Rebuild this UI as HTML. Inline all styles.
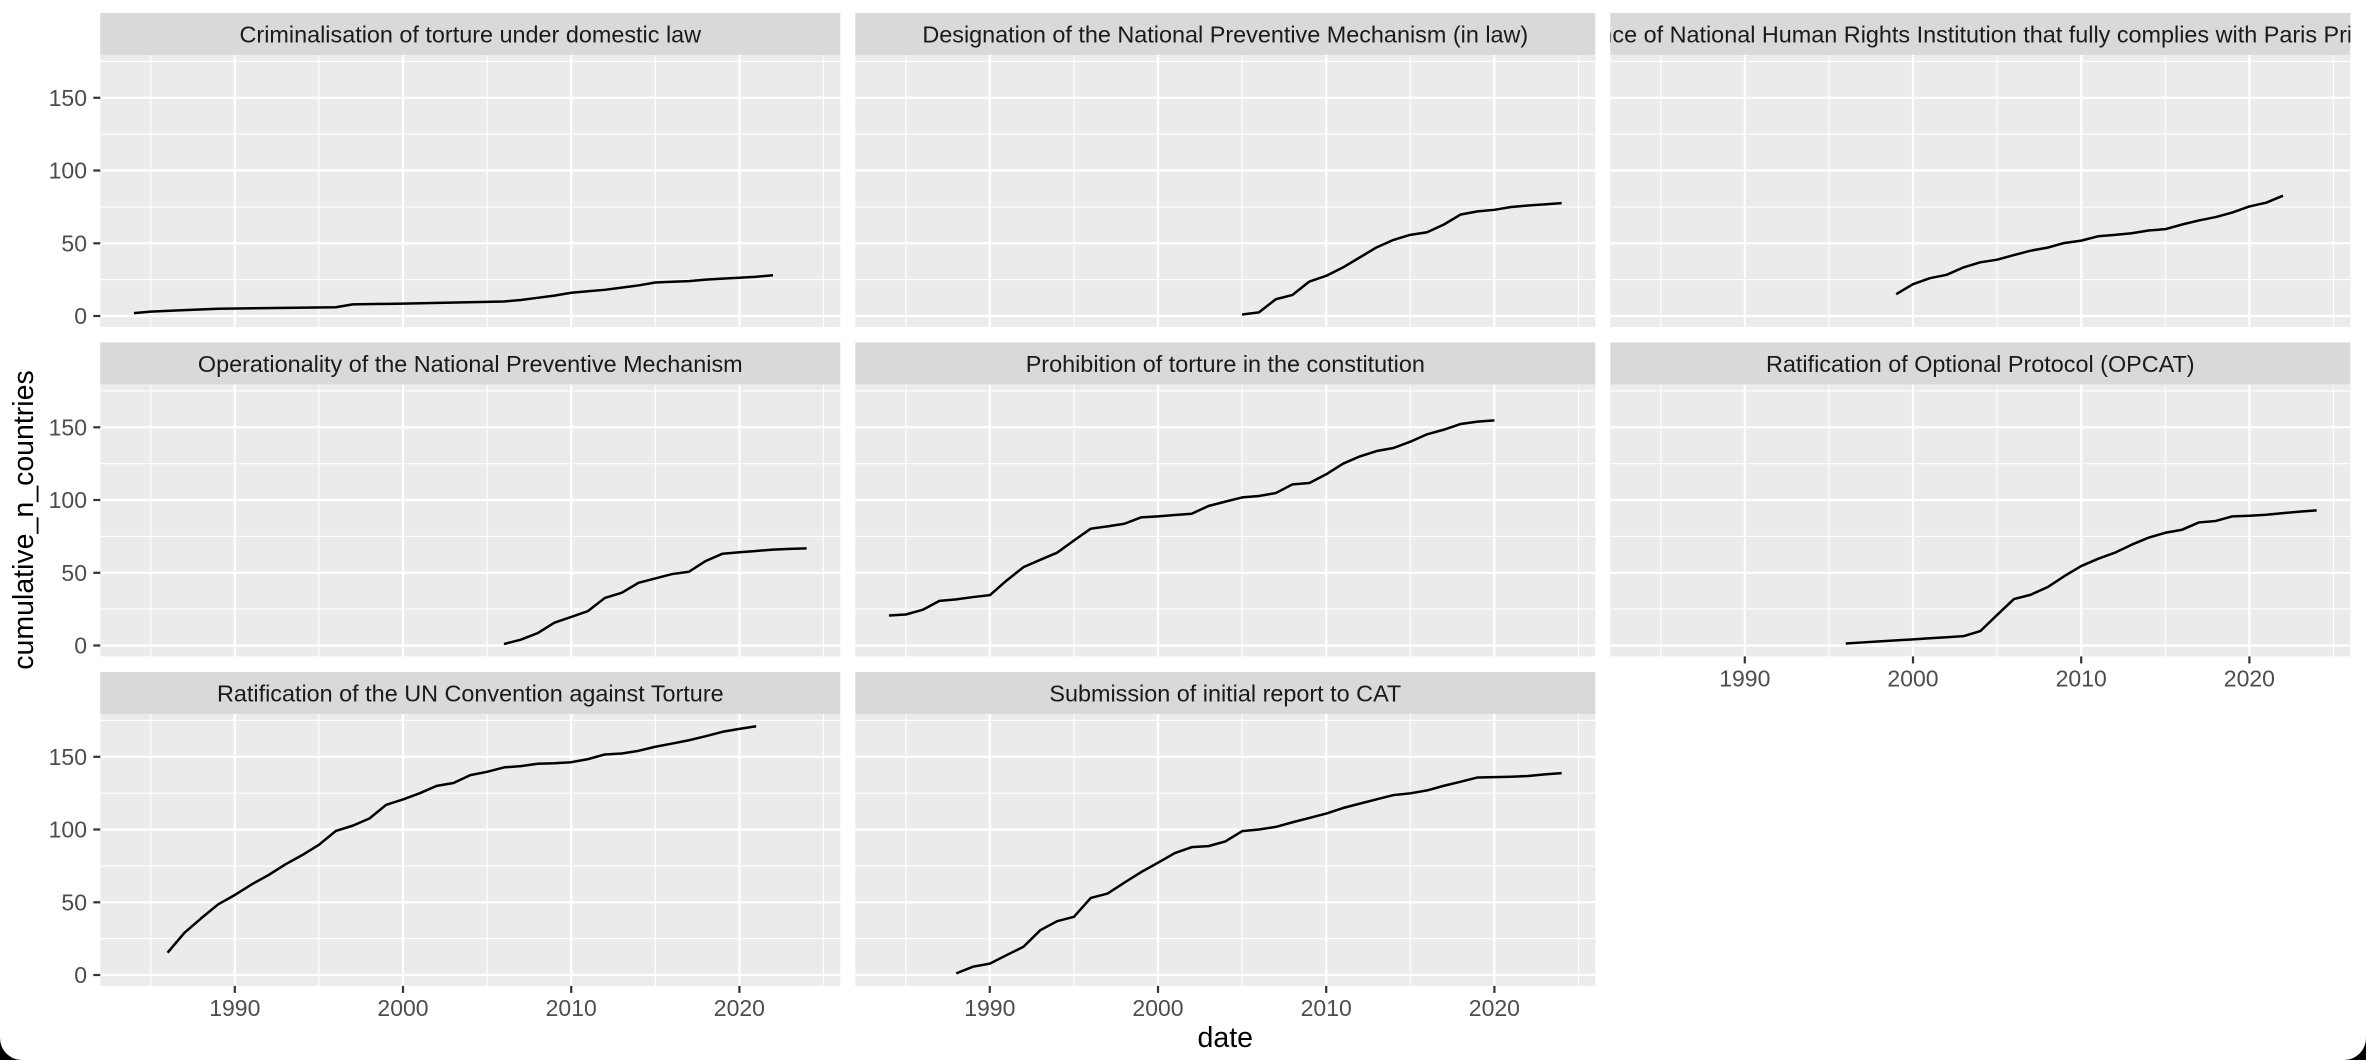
<!DOCTYPE html>
<html>
<head>
<meta charset="utf-8">
<style>
html,body{margin:0;padding:0;background:#fff;}
svg{display:block;}
text{font-family:"Liberation Sans",Arial,sans-serif;}
.st{font-size:23.4px;fill:#1A1A1A;text-anchor:middle;}
.yl{font-size:23px;fill:#4D4D4D;text-anchor:end;}
.xl{font-size:23px;fill:#4D4D4D;text-anchor:middle;}
.ttl{font-size:28.5px;fill:#000;text-anchor:middle;}
.ln{fill:none;stroke:#000;stroke-width:2.5;stroke-linejoin:round;vector-effect:non-scaling-stroke;}
.tk{stroke:#333;stroke-width:2.2;}
</style>
</head>
<body>
<svg width="2366" height="1060" viewBox="0 0 2366 1060" xmlns="http://www.w3.org/2000/svg">
<defs>
<g id="pg">
<rect x="0" y="0" width="740" height="272" fill="#EBEBEB"/>
<g stroke="#fff" stroke-width="1.1">
<line x1="0" y1="6.5" x2="740" y2="6.5"/>
<line x1="0" y1="79.3" x2="740" y2="79.3"/>
<line x1="0" y1="152.0" x2="740" y2="152.0"/>
<line x1="0" y1="224.7" x2="740" y2="224.7"/>
<line x1="50.5" y1="0" x2="50.5" y2="272"/>
<line x1="218.6" y1="0" x2="218.6" y2="272"/>
<line x1="386.8" y1="0" x2="386.8" y2="272"/>
<line x1="555.0" y1="0" x2="555.0" y2="272"/>
<line x1="723.2" y1="0" x2="723.2" y2="272"/>
</g>
<g stroke="#fff" stroke-width="2.2">
<line x1="0" y1="42.9" x2="740" y2="42.9"/>
<line x1="0" y1="115.6" x2="740" y2="115.6"/>
<line x1="0" y1="188.4" x2="740" y2="188.4"/>
<line x1="0" y1="261.1" x2="740" y2="261.1"/>
<line x1="134.5" y1="0" x2="134.5" y2="272"/>
<line x1="302.7" y1="0" x2="302.7" y2="272"/>
<line x1="470.9" y1="0" x2="470.9" y2="272"/>
<line x1="639.1" y1="0" x2="639.1" y2="272"/>
</g>
</g>
<g id="yax">
<line class="tk" x1="93.3" y1="42.9" x2="100.3" y2="42.9"/>
<line class="tk" x1="93.3" y1="115.6" x2="100.3" y2="115.6"/>
<line class="tk" x1="93.3" y1="188.4" x2="100.3" y2="188.4"/>
<line class="tk" x1="93.3" y1="261.1" x2="100.3" y2="261.1"/>
<text class="yl" x="87" y="51.1">150</text>
<text class="yl" x="87" y="123.8">100</text>
<text class="yl" x="87" y="196.6">50</text>
<text class="yl" x="87" y="269.3">0</text>
</g>
<g id="xax">
<line class="tk" x1="134.5" y1="0" x2="134.5" y2="7"/>
<line class="tk" x1="302.7" y1="0" x2="302.7" y2="7"/>
<line class="tk" x1="470.9" y1="0" x2="470.9" y2="7"/>
<line class="tk" x1="639.1" y1="0" x2="639.1" y2="7"/>
<text class="xl" x="134.5" y="30.3">1990</text>
<text class="xl" x="302.7" y="30.3">2000</text>
<text class="xl" x="470.9" y="30.3">2010</text>
<text class="xl" x="639.1" y="30.3">2020</text>
</g>
<clipPath id="c1"><rect x="100.3" y="12.9" width="740" height="42"/></clipPath>
<clipPath id="c2"><rect x="855.3" y="12.9" width="740" height="42"/></clipPath>
<clipPath id="c3"><rect x="1610.3" y="12.9" width="740" height="42"/></clipPath>
</defs>

<rect x="0" y="0" width="2366" height="1060" fill="#fff"/>

<!-- Panels -->
<use href="#pg" x="100.3" y="54.9"/>
<use href="#pg" x="855.3" y="54.9"/>
<use href="#pg" x="1610.3" y="54.9"/>
<use href="#pg" x="100.3" y="384.4"/>
<use href="#pg" x="855.3" y="384.4"/>
<use href="#pg" x="1610.3" y="384.4"/>
<use href="#pg" x="100.3" y="713.9"/>
<use href="#pg" x="855.3" y="713.9"/>

<!-- Strips -->
<rect x="100.3" y="12.9" width="740" height="42" fill="#D9D9D9"/>
<rect x="855.3" y="12.9" width="740" height="42" fill="#D9D9D9"/>
<rect x="1610.3" y="12.9" width="740" height="42" fill="#D9D9D9"/>
<rect x="100.3" y="342.4" width="740" height="42" fill="#D9D9D9"/>
<rect x="855.3" y="342.4" width="740" height="42" fill="#D9D9D9"/>
<rect x="1610.3" y="342.4" width="740" height="42" fill="#D9D9D9"/>
<rect x="100.3" y="671.9" width="740" height="42" fill="#D9D9D9"/>
<rect x="855.3" y="671.9" width="740" height="42" fill="#D9D9D9"/>

<text class="st" x="470.3" y="42.7" clip-path="url(#c1)">Criminalisation of torture under domestic law</text>
<text class="st" x="1225.3" y="42.7" clip-path="url(#c2)">Designation of the National Preventive Mechanism (in law)</text>
<text class="st" x="1980.3" y="42.7" clip-path="url(#c3)">Existence of National Human Rights Institution that fully complies with Paris Principles</text>
<text class="st" x="470.3" y="372.2">Operationality of the National Preventive Mechanism</text>
<text class="st" x="1225.3" y="372.2">Prohibition of torture in the constitution</text>
<text class="st" x="1980.3" y="372.2">Ratification of Optional Protocol (OPCAT)</text>
<text class="st" x="470.3" y="701.7">Ratification of the UN Convention against Torture</text>
<text class="st" x="1225.3" y="701.7">Submission of initial report to CAT</text>

<!-- Axes -->
<use href="#yax" x="0" y="54.9"/>
<use href="#yax" x="0" y="384.4"/>
<use href="#yax" x="0" y="713.9"/>
<use href="#xax" x="100.3" y="985.9"/>
<use href="#xax" x="855.3" y="985.9"/>
<use href="#xax" x="1610.3" y="656.4"/>

<!-- Data lines -->
<g transform="translate(100.3,54.9) scale(16.818,-1.45455) translate(-1982,-179.5)">
<polyline class="ln" points="1984,2 1985,3 1987,4 1989,5 1996,6 1997,8 2000,8.5 2006,10 2007,11 2008,12.5 2009,14 2010,16 2011,17 2012,18 2013,19.5 2014,21 2015,23 2016,23.5 2017,24 2018,25 2019,25.7 2020,26.3 2021,27 2022,28"/>
</g>
<g transform="translate(855.3,54.9) scale(16.818,-1.45455) translate(-1982,-179.5)">
<polyline class="ln" points="2005,1 2006,2.5 2007,11.5 2008,14.5 2009,23.7 2010,27.6 2011,33.4 2012,40.3 2013,47.2 2014,52.3 2015,55.8 2016,57.6 2017,62.9 2018,69.8 2019,71.9 2020,73 2021,74.9 2022,76 2023,76.7 2024,77.6"/>
</g>
<g transform="translate(1610.3,54.9) scale(16.818,-1.45455) translate(-1982,-179.5)">
<polyline class="ln" points="1999,15 2000,21.9 2001,26 2002,28.3 2003,33.4 2004,36.9 2005,38.7 2006,41.9 2007,44.9 2008,47 2009,50.2 2010,51.8 2011,54.8 2012,55.8 2013,56.9 2014,58.8 2015,59.7 2016,62.9 2017,65.7 2018,68 2019,71.2 2020,75.3 2021,77.9 2022,82.7"/>
</g>
<g transform="translate(100.3,384.4) scale(16.818,-1.45455) translate(-1982,-179.5)">
<polyline class="ln" points="2006,1 2007,4 2008,8.5 2009,15.7 2010,19.6 2011,23.7 2012,32.7 2013,36.2 2014,43.1 2015,46.1 2016,49.1 2017,50.7 2018,58.1 2019,63.1 2020,64.1 2021,65 2022,65.9 2023,66.4 2024,66.8"/>
</g>
<g transform="translate(855.3,384.4) scale(16.818,-1.45455) translate(-1982,-179.5)">
<polyline class="ln" points="1984,20.6 1985,21.3 1986,24.5 1987,30.7 1988,31.7 1989,33.3 1990,34.6 1991,44.7 1992,53.9 1993,58.9 1994,63.8 1995,72.2 1996,80.3 1997,81.9 1998,83.7 1999,88.1 2000,88.8 2001,89.7 2002,90.6 2003,95.9 2004,98.9 2005,101.8 2006,102.8 2007,104.8 2008,110.8 2009,111.7 2010,117.7 2011,125 2012,130 2013,133.7 2014,135.8 2015,140.1 2016,145.2 2017,148.4 2018,152.3 2019,153.9 2020,154.8"/>
</g>
<g transform="translate(1610.3,384.4) scale(16.818,-1.45455) translate(-1982,-179.5)">
<polyline class="ln" points="1996,1.4 1997,2.1 1998,2.8 1999,3.5 2000,4.2 2001,5 2002,5.7 2003,6.4 2004,9.9 2005,21 2006,31.9 2007,34.9 2008,40.1 2009,47.7 2010,54.6 2011,59.6 2012,63.8 2013,69.3 2014,74.1 2015,77.5 2016,79.6 2017,84.6 2018,85.6 2019,88.8 2020,89.2 2021,89.9 2022,91 2023,92 2024,92.9"/>
</g>
<g transform="translate(100.3,713.9) scale(16.818,-1.45455) translate(-1982,-179.5)">
<polyline class="ln" points="1986,15.3 1987,29 1988,39 1989,48.5 1990,55 1991,62.3 1992,68.7 1993,76 1994,82.4 1995,89.5 1996,99 1997,102.6 1998,107.6 1999,117 2000,120.7 2001,125 2002,130 2003,132 2004,137.4 2005,139.7 2006,142.7 2007,143.6 2008,145.2 2009,145.6 2010,146.3 2011,148.4 2012,151.6 2013,152.3 2014,154.1 2015,156.9 2016,159.1 2017,161.4 2018,164.2 2019,167.2 2020,169.2 2021,171"/>
</g>
<g transform="translate(855.3,713.9) scale(16.818,-1.45455) translate(-1982,-179.5)">
<polyline class="ln" points="1988,1.1 1989,5.7 1990,7.8 1991,13.7 1992,19.4 1993,30.8 1994,37 1995,40 1996,53 1997,56 1998,63.5 1999,70.8 2000,77.2 2001,83.8 2002,87.9 2003,88.6 2004,91.8 2005,98.9 2006,100 2007,101.8 2008,105 2009,108 2010,111 2011,114.8 2012,117.8 2013,120.8 2014,123.7 2015,124.9 2016,126.9 2017,130.1 2018,132.9 2019,135.8 2020,136 2021,136.3 2022,136.8 2023,137.9 2024,138.8"/>
</g>

<!-- Axis titles -->
<text class="ttl" x="1225.3" y="1047">date</text>
<text class="ttl" transform="translate(33,520) rotate(-90)">cumulative_n_countries</text>

<!-- Rounded bottom corners -->
<path d="M0,1038 A22,22 0 0 0 22,1060 L0,1060 Z" fill="#000"/>
<path d="M2366,1038 A22,22 0 0 1 2344,1060 L2366,1060 Z" fill="#000"/>
</svg>
</body>
</html>
